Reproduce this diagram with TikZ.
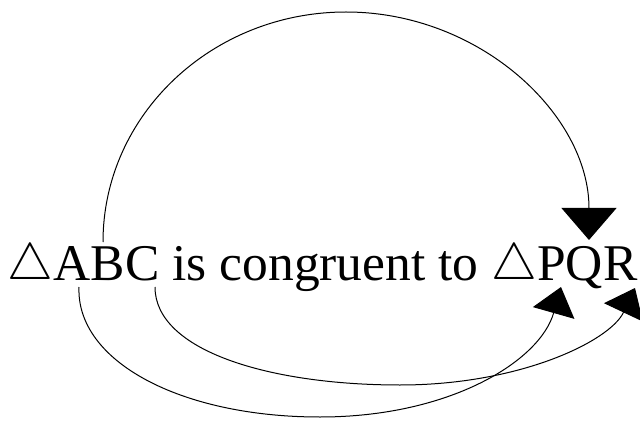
\documentclass[tikz,border=0pt]{standalone}
\usepackage{graphicx}
\usepackage{fontspec}
\setmainfont{Liberation Serif}
\usetikzlibrary{arrows.meta}
\newcommand{\bigtri}{{\fontsize{10}{12}\selectfont\scalebox{5.15}{$\triangle$}}}
\begin{document}
\begin{tikzpicture}[x=1pt,y=1pt,
  txt/.style={inner sep=0pt, outer sep=0pt, anchor=base west, font=\fontsize{51.5}{60}\selectfont},
  link/.style={line width=1pt},
  bigtip/.style={-{Triangle[width=55pt,length=32pt]}},
  smalltip/.style={-{Triangle[width=43pt,length=27pt]}}]
\useasboundingbox (0,0) rectangle (640,421);
% text
\node[txt] (t1) at (8,141) {\bigtri};
\node[txt] (A) at (t1.base east) {A};
\node[txt] (B) at (A.base east) {B};
\node[txt] (C) at (B.base east) {C};
\node[txt] (w) at (C.base east) {\kern0.25em is congruent to\kern0.25em};
\node[txt] (t2) at (w.base east) {\bigtri};
\node[txt] (P) at (t2.base east) {P};
\node[txt] (Q) at (P.base east) {Q};
\node[txt] (R) at (Q.base east) {R};
% connector ends
\coordinate (Atop) at (103,179);
\coordinate (Abot) at (79,134);
\coordinate (Cbot) at (155,134);
\coordinate (Ptop) at (589,181);
\coordinate (Qbot) at (561,134);
\coordinate (Rbot) at (635,133);
% connectors
\draw[link,bigtip] (Atop) .. controls (103,306) and (212,409) .. (346,409)
  .. controls (480,409) and (589,306) .. (Ptop);
\draw[link,smalltip] (Abot) .. controls (76,60) and (180,4) .. (320,4)
  .. controls (450,4) and (540,60) .. (Qbot);
\draw[link,smalltip] (Cbot) .. controls (155,70) and (270,36) .. (400,36)
  .. controls (520,36) and (610,80) .. (Rbot);
\end{tikzpicture}
\end{document}
